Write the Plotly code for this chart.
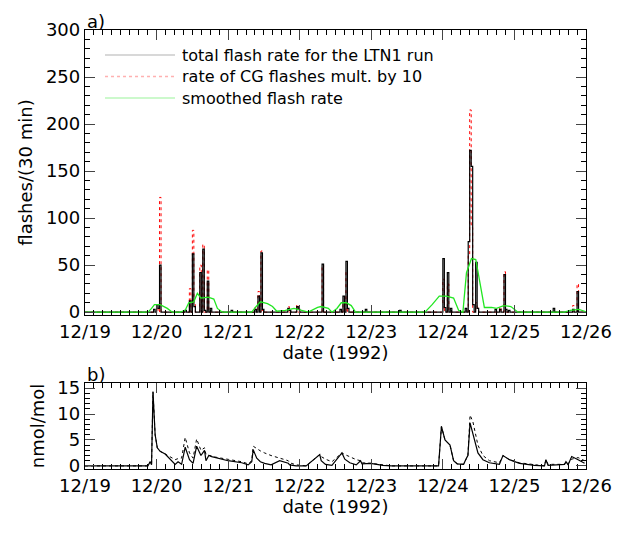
import numpy as np
import plotly.graph_objects as go
from plotly.subplots import make_subplots

# time axis: days since 12/19/1992 00:00
day_ticks = [0, 1, 2, 3, 4, 5, 6, 7]
day_labels = ["12/19", "12/20", "12/21", "12/22", "12/23", "12/24", "12/25", "12/26"]

# panel a: 30-min flash bins (day, total flashes, CG flashes x10); bins not listed are zero
bin_days = [0.96, 0.99, 1.02, 1.04, 1.40, 1.45, 1.49, 1.51, 1.53, 1.60, 1.64, 1.67, 1.71, 1.74,
            2.05, 2.38, 2.42, 2.45, 2.47, 2.83, 2.86, 2.96, 2.98, 3.31, 3.56, 3.60, 3.64, 3.66,
            3.92, 4.40, 5.01, 5.03, 5.06, 5.10, 5.32, 5.36, 5.38, 5.40, 5.42, 5.45, 5.48,
            5.72, 5.80, 5.86, 5.88, 5.92, 6.55, 6.82, 6.87]
total_rate = [3, 8, 4, 50, 2, 12, 20, 62, 6, 42, 67, 2, 33, 4,
              2, 3, 17, 63, 3, 4, 2, 6, 3, 51, 3, 17, 54, 4,
              3, 2, 57, 5, 42, 4, 4, 75, 172, 155, 8, 53, 4,
              3, 3, 40, 3, 2, 4, 3, 22]
cg_rate_x10 = [0, 5, 0, 122, 0, 25, 35, 87, 10, 50, 72, 0, 45, 0,
               0, 5, 22, 65, 0, 6, 0, 8, 0, 50, 0, 10, 43, 0,
               0, 0, 35, 0, 30, 0, 0, 60, 215, 90, 0, 10, 5,
               0, 5, 43, 0, 0, 0, 7, 30]

# smoothed flash rate
smooth_days = [0, 0.88, 0.93, 0.97, 1.05, 1.15, 1.22, 1.27, 1.33, 1.40, 1.45, 1.52, 1.57, 1.62, 1.72,
               1.80, 1.85, 1.92, 2.33, 2.38, 2.45, 2.55, 2.62, 2.68, 2.80, 2.92, 3.05, 3.12, 3.25, 3.30,
               3.40, 3.45, 3.52, 3.58, 3.65, 3.72, 3.78, 4.75, 4.85, 4.95, 5.05, 5.15, 5.22, 5.28, 5.33,
               5.40, 5.46, 5.52, 5.58, 5.68, 5.75, 5.85, 5.95, 6.05, 6.70, 6.78, 6.90, 6.98, 7.0]
smooth_rate = [0, 0, 4, 8, 8, 4, 0, 0, 0, 2, 10, 11, 20, 15, 16,
               14, 4, 0, 0, 5, 11, 9, 6, 1, 2, 4, 1, 0, 5, 6,
               4, 0, 4, 10, 10, 7, 0, 0, 8, 17, 17, 15, 2, 0, 42,
               57, 56, 30, 5, 5, 4, 7, 6, 0, 0, 2, 3, 1, 0]

# panel b: NOx mixing ratio (nmol/mol), solid and dotted runs
nox_days = [0, 0.88, 0.91, 0.93, 0.95, 0.98, 1.01, 1.05, 1.12, 1.21, 1.26, 1.30, 1.35, 1.40, 1.46, 1.51,
            1.56, 1.62, 1.67, 1.69, 1.73, 1.77, 1.82, 2.00, 2.19, 2.28, 2.33, 2.35, 2.40, 2.45, 2.51,
            2.60, 2.72, 2.84, 2.86, 2.95, 3.09, 3.28, 3.30, 3.36, 3.45, 3.59, 3.63, 3.70, 3.79, 3.85,
            3.87, 3.99, 4.12, 4.16, 4.28, 4.94, 4.98, 5.03, 5.10, 5.15, 5.20, 5.29, 5.33, 5.35, 5.38,
            5.42, 5.49, 5.56, 5.65, 5.79, 5.84, 5.93, 6.07, 6.28, 6.42, 6.44, 6.47, 6.70, 6.72, 6.75,
            6.80, 6.89, 6.98]
nox_solid = [0, 0, 0.8, 0.2, 14.3, 6.0, 3.5, 2.8, 2.3, 1.0, 0.3, 0.8, 0.3, 3.6, 1.2, 0.5,
             3.8, 2.0, 3.0, 1.0, 2.0, 1.8, 1.6, 1.0, 0.6, 0.2, 0.8, 3.1, 1.5, 0.8, 0.5,
             0.2, 1.0, 0.5, 0.2, 0, 0, 2.2, 1.0, 0.3, 0.1, 2.5, 1.3, 0.6, 0.2, 1.0,
             0.4, 0.5, 0.2, 0.1, 0, 0, 7.6, 5.0, 4.0, 1.0, 0.4, 0.3, 1.5, 2.0, 8.3,
             6.0, 2.5, 1.2, 0.6, 0.3, 2.0, 1.2, 0.5, 0.1, 0, 1.2, 0.1, 0.3, 0.8, 0.2,
             1.8, 1.2, 0.5]
nox_dotted = [0, 0, 0.8, 0.2, 14.3, 6.0, 3.5, 2.8, 2.3, 1.5, 1.2, 1.4, 1.5, 5.5, 2.5, 1.5,
              5.2, 3.0, 3.5, 2.2, 2.1, 1.9, 1.7, 1.2, 0.8, 0.4, 1.0, 3.8, 3.3, 2.9, 2.5,
              2.0, 1.5, 1.0, 0.6, 0.2, 0, 2.2, 1.8, 1.3, 0.8, 2.5, 2.2, 1.7, 1.2, 1.0,
              0.6, 0.5, 0.3, 0.1, 0, 0, 7.6, 5.0, 4.0, 1.0, 0.4, 0.3, 1.5, 2.0, 9.8,
              8.5, 4.0, 2.0, 1.0, 0.6, 2.0, 1.2, 0.6, 0.2, 0, 1.2, 0.3, 0.3, 0.8, 0.4,
              1.3, 1.6, 1.0]

# expand sparse bins to full 30-min series
edges = np.arange(0, 7 + 1e-9, 1 / 48)
tot = np.zeros(len(edges))
cg = np.zeros(len(edges))
for d, t, c in zip(bin_days, total_rate, cg_rate_x10):
    i = int(round(d * 48))
    tot[i] = t
    cg[i] = c

fig = make_subplots(rows=2, cols=1)
fig.add_trace(go.Scatter(x=edges, y=cg, mode="lines", line_shape="hv",
                         line=dict(color="red", width=1, dash="dot")), row=1, col=1)
fig.add_trace(go.Scatter(x=edges, y=tot, mode="lines", line_shape="hv",
                         line=dict(color="black", width=1.2)), row=1, col=1)
fig.add_trace(go.Scatter(x=smooth_days, y=smooth_rate, mode="lines",
                         line=dict(color="#22e622", width=1.3)), row=1, col=1)
fig.add_trace(go.Scatter(x=nox_days, y=nox_dotted, mode="lines",
                         line=dict(color="black", width=1, dash="dot")), row=2, col=1)
fig.add_trace(go.Scatter(x=nox_days, y=nox_solid, mode="lines",
                         line=dict(color="black", width=1.2)), row=2, col=1)

# page has an 8px body margin, so the figure is offset by 8px
OFF = 8
W, H = 621 - OFF, 540 - OFF
def px(v):
    return (v - OFF) / W
def py(v):
    return 1 - (v - OFF) / H

fnt = dict(family="DejaVu Sans", size=18, color="black")
xax = dict(range=[0, 7], tickvals=day_ticks, ticktext=day_labels, ticks="inside", ticklen=10,
           mirror="ticks", showline=True, linecolor="black", linewidth=1.3, showgrid=False,
           zeroline=False, tickfont=fnt, automargin=False,
           title=dict(text="date (1992)", font=fnt, standoff=2),
           minor=dict(dtick=1 / 8, ticks="inside", ticklen=5, tickcolor="black"))
yax = dict(ticks="inside", ticklen=10, mirror="ticks", showline=True, linecolor="black",
           linewidth=1.3, showgrid=False, zeroline=False, tickfont=fnt, automargin=False)
fig.update_layout(
    width=W, height=H, template="simple_white", showlegend=False,
    margin=dict(l=0, r=0, t=0, b=0), plot_bgcolor="white", paper_bgcolor="white",
    font=fnt,
    xaxis=dict(xax, domain=[px(85), px(586)]),
    xaxis2=dict(xax, domain=[px(85), px(586)]),
    yaxis=dict(yax, range=[-3, 300], domain=[py(315), py(30)],
               tickvals=[0, 50, 100, 150, 200, 250, 300],
               title=dict(text="flashes/(30 min)", font=fnt, standoff=8),
               minor=dict(dtick=10, ticks="inside", ticklen=5, tickcolor="black")),
    yaxis2=dict(yax, range=[-0.6, 16], domain=[py(469), py(383)], tickvals=[0, 5, 10, 15],
                title=dict(text="nmol/mol", font=fnt, standoff=8),
                minor=dict(dtick=1, ticks="inside", ticklen=5, tickcolor="black")),
)

# panel letters
for txt, ytop in [(("a)"), 9), ("b)", 362)]:
    fig.add_annotation(text=txt, x=px(85), y=py(ytop), xref="paper", yref="paper",
                       xanchor="left", yanchor="top", showarrow=False, font=fnt)

# legend drawn by hand
legend = [("total flash rate for the LTN1 run", "#555555", "solid"),
          ("rate of CG flashes mult. by 10", "red", "dot"),
          ("smoothed flash rate", "#22e622", "solid")]
for k, (txt, col, dash) in enumerate(legend):
    ypx = 55 + k * 21.5
    fig.add_shape(type="line", xref="paper", yref="paper", x0=px(105), x1=px(175),
                  y0=py(ypx), y1=py(ypx), line=dict(color=col, width=1.5, dash=dash))
    fig.add_annotation(text=txt, x=px(180), y=py(ypx), xref="paper", yref="paper",
                       xanchor="left", yanchor="middle", showarrow=False,
                       font=dict(family="DejaVu Sans", size=16, color="black"))

fig.write_html("out.html")
